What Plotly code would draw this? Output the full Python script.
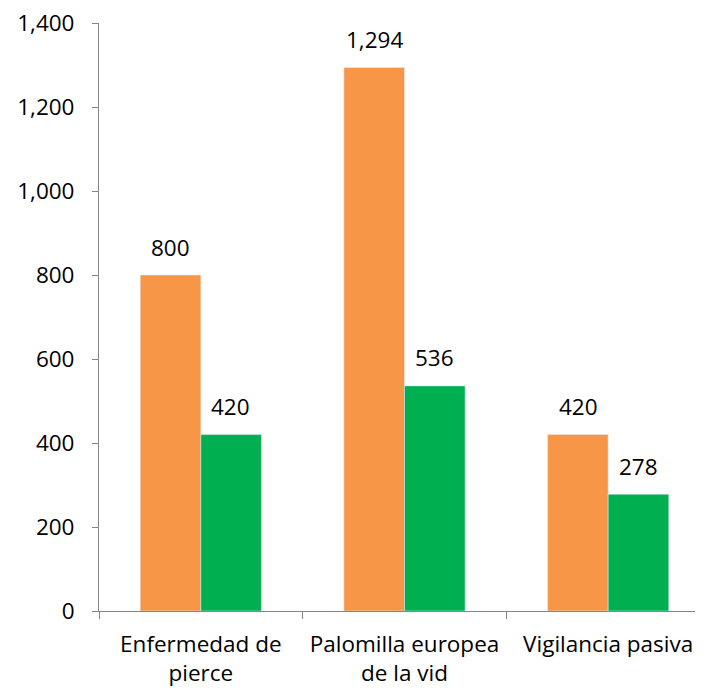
import plotly.graph_objects as go

categories = ["Enfermedad de<br>pierce", "Palomilla europea<br>de la vid", "Vigilancia pasiva"]
series_a = [800, 1294, 420]
series_b = [420, 536, 278]
tick_vals = [0, 200, 400, 600, 800, 1000, 1200, 1400]

font_family = "Open Sans"
fs = 22.5

fig = go.Figure()
fig.add_trace(go.Bar(x=categories, y=series_a, marker_color="#F79646"))
fig.add_trace(go.Bar(x=categories, y=series_b, marker_color="#00B050"))

annotations = []
for series, dx in ((series_a, -30), (series_b, 30)):
    for cat, v in zip(categories, series):
        annotations.append(dict(x=cat, y=v, xref="x", yref="y", text=f"{v:,}",
                                showarrow=False, xshift=dx, yshift=28,
                                yanchor="middle", xanchor="center",
                                font=dict(size=fs, color="#000000", family=font_family)))

fig.update_layout(
    width=703, height=694,
    margin=dict(l=91, r=1, t=15, b=91),
    paper_bgcolor="white", plot_bgcolor="white",
    barmode="group", bargap=0.405, bargroupgap=0,
    showlegend=False,
    font=dict(family=font_family, size=fs, color="#000000"),
    annotations=annotations,
)
fig.update_xaxes(
    range=[-0.5, 2.5], tickson="boundaries", ticks="outside", ticklen=7,
    tickcolor="#868686", showline=True, linecolor="#868686", linewidth=1,
    showgrid=False, tickfont=dict(size=fs), automargin=False, ticklabelstandoff=13,
    ticklabeloverflow="allow",
)
fig.update_yaxes(
    range=[0, 1400], tickvals=tick_vals, tickformat=",", ticks="outside", ticklen=6,
    tickcolor="#868686", showline=True, linecolor="#868686", linewidth=1,
    showgrid=False, zeroline=False, tickfont=dict(size=fs), ticklabelstandoff=13,
    automargin=False, ticklabeloverflow="allow",
)

fig.write_html("out.html")
